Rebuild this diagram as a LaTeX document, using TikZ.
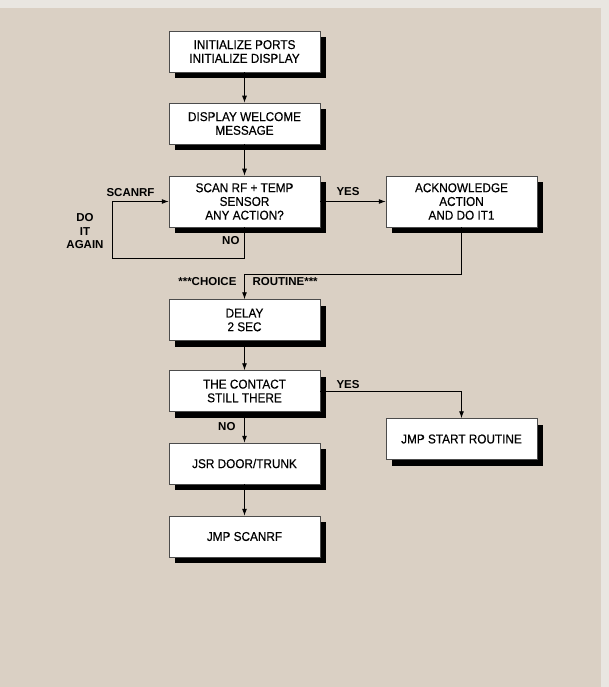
\documentclass[tikz,border=0pt]{standalone}
\usepackage{fontspec}
\setmainfont{Liberation Sans}
\newfontfamily\boxfont[FakeBold=0.4, FakeStretch=0.92]{Liberation Sans}
\usepackage{tikz}
\usetikzlibrary{arrows.meta, positioning, calc, shadows}
\definecolor{paper}{HTML}{DAD0C4}
\definecolor{paperedge}{HTML}{E9E6E1}

\begin{document}
\begin{tikzpicture}[
    x=1pt, y=-1pt,
    every node/.style={font=\boxfont\fontsize{12.8}{13.7}\selectfont},
    box/.style={draw=black!70, line width=0.5pt, fill=white, align=center,
        minimum width=151pt, minimum height=41pt, inner sep=2pt,
        general shadow={fill=black, shadow xshift=6pt, shadow yshift=-6pt}},
    tall/.style={box, minimum height=51pt},
    tag/.style={font=\fontsize{11.5}{13.5}\selectfont\bfseries, align=center},
    arr/.style={line width=0.9pt, -{Latex[length=7pt,width=5pt]}},
    wire/.style={line width=0.9pt}
]

\def\lx{244.5}
\def\rx{461.5}

% Paper
\fill[paperedge] (0,0) rectangle (609,687);
\fill[paper] (0,8) rectangle (601,687);
\useasboundingbox (0,0) rectangle (609,687);

% Boxes
\node[box] (init) at (\lx, 51.5) {INITIALIZE PORTS\\INITIALIZE DISPLAY};
\node[box] (welcome) at (\lx, 123.5) {DISPLAY WELCOME\\MESSAGE};
\node[tall] (scan) at (\lx, 201.5) {SCAN RF + TEMP\\SENSOR\\ANY ACTION?};
\node[tall] (ack) at (\rx, 201.5) {ACKNOWLEDGE\\ACTION\\AND DO IT1};
\node[box] (delay) at (\lx, 320) {DELAY\\2 SEC};
\node[box] (contact) at (\lx, 391) {THE CONTACT\\STILL THERE};
\node[box] (jmpstart) at (\rx, 439) {JMP START ROUTINE};
\node[box] (jsr) at (\lx, 463.5) {JSR DOOR/TRUNK};
\node[box] (jmpscan) at (\lx, 536.5) {JMP SCANRF};

% Corners
\coordinate (loop) at (112, 258);
\coordinate (join) at (\lx, 274);

% Labels
\node[tag] (scanrf) at (130.5, 193) {SCANRF};
\node[tag] (again) at (85, 231.5) {DO\\IT\\AGAIN};
\node[tag, anchor=east] (scanno) at (243, 241) {NO};
\node[tag] (scanyes) at (348, 192) {YES};
\node[tag, anchor=east] (choice) at (240, 282) {***CHOICE};
\node[tag, anchor=west] (routine) at (249, 282) {ROUTINE***};
\node[tag] (contactyes) at (348, 385) {YES};
\node[tag, anchor=east] (contactno) at (239, 427) {NO};

% Connecting lines
\draw[arr] (init) -- (welcome);
\draw[arr] (welcome) -- (scan);
\draw[arr] (scan.south) |- (loop) |- (scan.west);
\draw[arr] (scan) -- (ack);
\draw[wire] (ack.south) |- (join);
\draw[arr] (join) -- (delay.north);
\draw[arr] (delay) -- (contact);
\draw[arr] (contact.east) -| (jmpstart.north);
\draw[arr] (contact) -- (jsr);
\draw[arr] (jsr) -- (jmpscan);

\end{tikzpicture}
\end{document}
